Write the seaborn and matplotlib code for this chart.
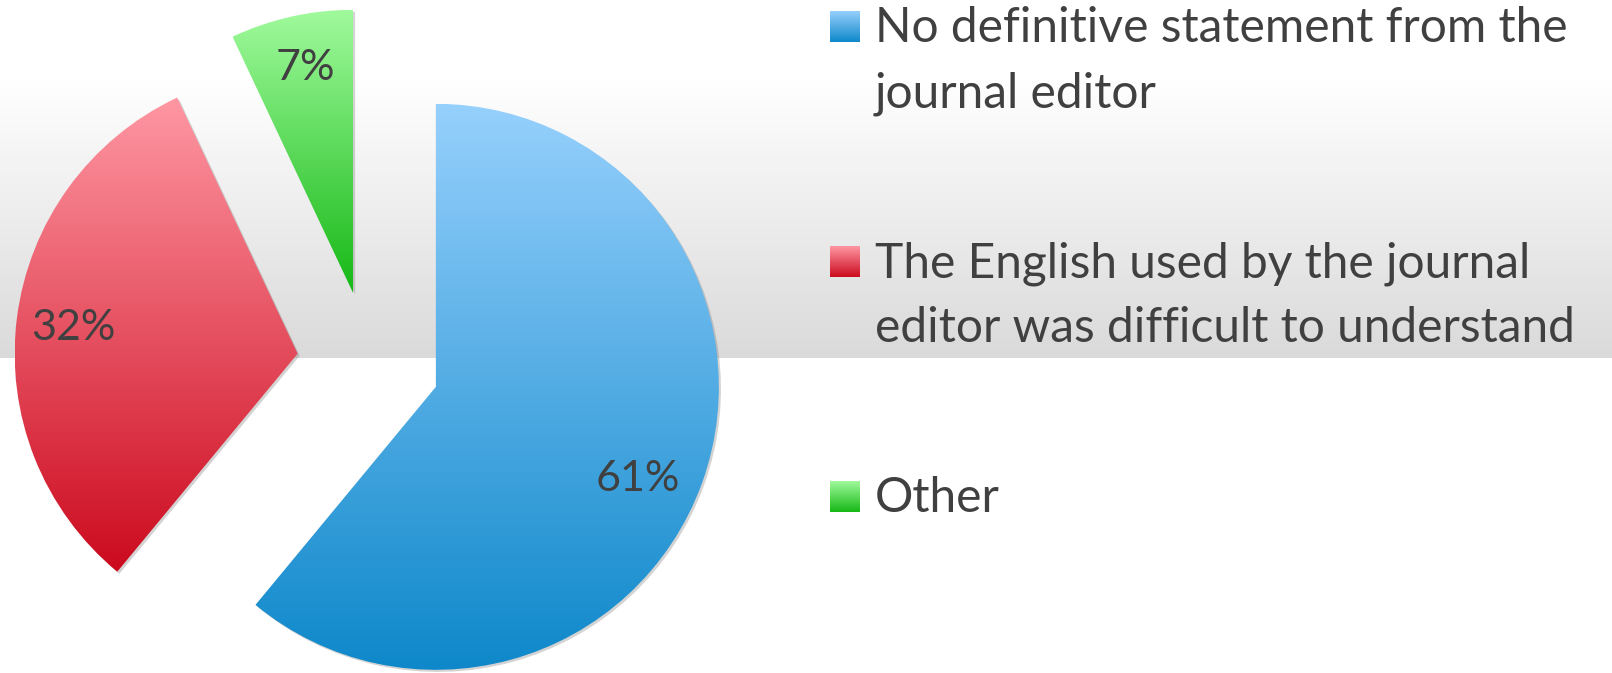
import numpy as np
import matplotlib
matplotlib.use("Agg")
import matplotlib.pyplot as plt
import seaborn as sns
from matplotlib.colors import LinearSegmentedColormap
from matplotlib.patches import Shadow

# ============================================================
# DATA
# ============================================================

categories = [
    "No definitive statement from the\njournal editor",
    "The English used by the journal\neditor was difficult to understand",
    "Other",
]
shares = [61, 32, 7]

top_colors = ["#96D0FD", "#FF97A3", "#A0FA9C"]
bottom_colors = ["#0E88CA", "#CC0A1E", "#16B816"]

# ============================================================
# STYLE
# ============================================================

sns.set_theme(style="white")
plt.rcParams["font.family"] = ["Lato", "DejaVu Sans"]

TEXT_COLOR = "#404040"
PCT_SIZE = 31
LEGEND_SIZE = 34.5

W, H = 1612, 673
fig = plt.figure(figsize=(W / 100, H / 100), dpi=100)

# ============================================================
# BACKGROUND BAND
# ============================================================

bg = fig.add_axes([0, 0, 1, 1])
rows = np.arange(H)
shade = np.ones(H)
band = (rows >= 72) & (rows < 358)
shade[band] = 1 - (1 - 217 / 255) * (rows[band] - 72) / (358 - 72)
bg.imshow(shade[:, None], cmap="gray", vmin=0, vmax=1,
          aspect="auto", extent=[0, W, H, 0])
bg.set_xlim(0, W)
bg.set_ylim(H, 0)
bg.axis("off")

# ============================================================
# PIE
# ============================================================

ax = fig.add_axes([0, 0, 1, 1])
ax.patch.set_alpha(0)

radius = 283
wedges, texts, autotexts = ax.pie(
    shares,
    explode=[71.5] * len(shares),
    radius=radius,
    center=(368.6, H - 362.6),
    startangle=90,
    counterclock=False,
    autopct=lambda p: f"{p:.0f}%",
    pctdistance=0.8,
    textprops=dict(fontsize=PCT_SIZE, color=TEXT_COLOR),
    frame=True,
)

grad = np.linspace(0, 1, 256)[:, None]

for wedge, top, bottom in zip(wedges, top_colors, bottom_colors):

    wedge.set_facecolor("none")
    wedge.set_edgecolor("none")

    sh = Shadow(wedge, 1.5, -1.5)
    sh.set_facecolor("#707070")
    sh.set_edgecolor("none")
    sh.set_alpha(0.3)
    sh.set_zorder(1)
    ax.add_patch(sh)

    ext = wedge.get_path().get_extents()
    cmap = LinearSegmentedColormap.from_list("g", [bottom, top])
    im = ax.imshow(grad, cmap=cmap, origin="lower", aspect="auto",
                   extent=[ext.x0, ext.x1, ext.y0, ext.y1], zorder=2)
    im.set_clip_path(wedge)

# small nudges of the percentage labels (Excel placement)
nudges = [(-11, -15), (0, -3), (2, 4)]
for t, (dx, dy) in zip(autotexts, nudges):
    x, y = t.get_position()
    t.set_position((x + dx, y + dy))
    t.set_zorder(5)

# ============================================================
# LEGEND
# ============================================================

box_tops = [11, 246, 481]
for label, top, bottom, y0 in zip(categories, top_colors, bottom_colors, box_tops):

    cmap = LinearSegmentedColormap.from_list("g", [bottom, top])
    ax.imshow(grad, cmap=cmap, origin="lower", aspect="auto",
              extent=[830, 860, H - (y0 + 31), H - y0], zorder=2)

    for i, line in enumerate(label.split("\n")):
        ax.text(875, H - (y0 + 31) - i * 65, line, fontsize=LEGEND_SIZE,
                color=TEXT_COLOR, va="baseline", ha="left")

ax.set_xlim(0, W)
ax.set_ylim(0, H)
ax.axis("off")

fig.savefig("out.png", dpi=100)
